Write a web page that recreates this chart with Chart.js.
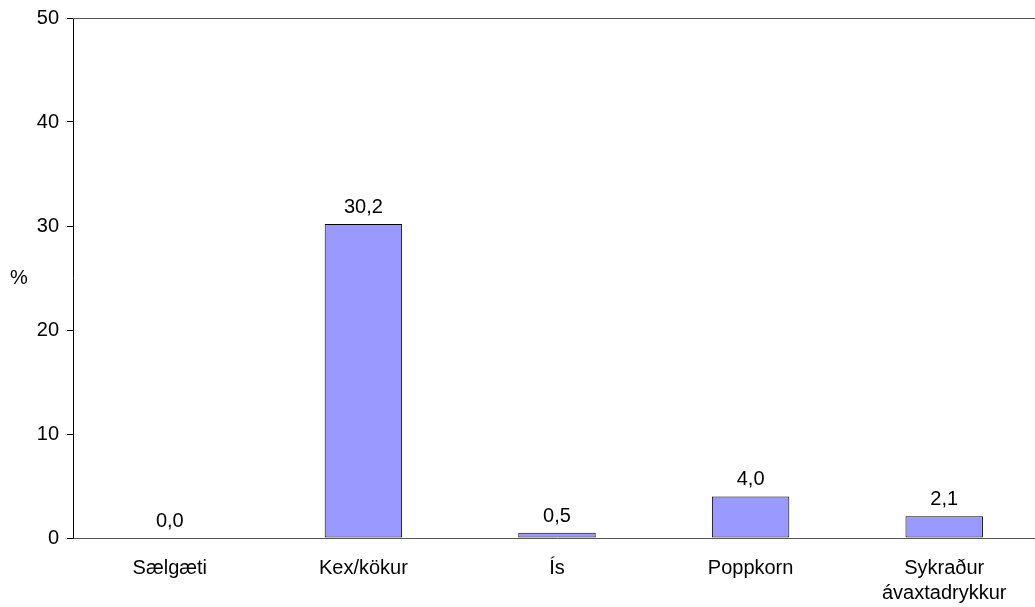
<!DOCTYPE html>
<html>
<head>
<meta charset="utf-8">
<script src="https://cdn.jsdelivr.net/npm/chart.js@4"></script>
<style>
  html, body { margin: 0; padding: 0; background: #fff; }
  #wrap { width: 1035px; height: 607px; overflow: hidden; }
</style>
</head>
<body>
<div id="wrap"><canvas id="chart" width="1042" height="607"></canvas></div>
<script>
const categories = ['Sælgæti', 'Kex/kökur', 'Ís', 'Poppkorn', ['Sykraður', 'ávaxtadrykkur']];
const values = [0.0, 30.2, 0.5, 4.0, 2.1];
const yTicks = [0, 10, 20, 30, 40, 50];

const FONT = 'Liberation Sans, Arial, sans-serif';

// draws value labels, the top border and the "%" axis title
const extras = {
    id: 'extras',
    afterDatasetsDraw(chart) {
        const ctx = chart.ctx;
        const area = chart.chartArea;
        ctx.save();
        ctx.strokeStyle = '#555';
        ctx.lineWidth = 1;
        ctx.beginPath();
        ctx.moveTo(area.left, Math.round(area.top) + 0.5);
        ctx.lineTo(area.right, Math.round(area.top) + 0.5);
        ctx.stroke();

        ctx.fillStyle = '#000';
        ctx.font = '20px ' + FONT;
        ctx.textAlign = 'center';
        ctx.textBaseline = 'alphabetic';
        const meta = chart.getDatasetMeta(0);
        meta.data.forEach((bar, i) => {
            ctx.fillText(values[i].toFixed(1).replace('.', ','), bar.x, bar.y - 11);
        });

        ctx.textBaseline = 'middle';
        ctx.fillText('%', 19, (area.top + area.bottom) / 2);
        ctx.restore();
    }
};

new Chart(document.getElementById('chart').getContext('2d'), {
    type: 'bar',
    data: {
        labels: categories,
        datasets: [{
            data: values,
            backgroundColor: '#9999FF',
            borderColor: '#000',
            borderWidth: 1,
            borderSkipped: false,
            categoryPercentage: 1,
            barPercentage: 0.4
        }]
    },
    options: {
        responsive: false,
        animation: false,
        layout: { padding: { top: 18, right: 1, left: 1, bottom: 0 } },
        plugins: { legend: { display: false }, tooltip: { enabled: false } },
        scales: {
            x: {
                afterFit: s => { s.height = 69; s.paddingLeft = 0; s.paddingRight = 0; },
                grid: { drawOnChartArea: false, drawTicks: false },
                border: { color: '#555', width: 1 },
                ticks: {
                    color: '#000',
                    font: { family: FONT, size: 20, lineHeight: 1.25 },
                    padding: 18,
                    maxRotation: 0,
                    autoSkip: false
                }
            },
            y: {
                min: 0,
                max: 50,
                afterFit: s => { s.width = 72; s.paddingTop = 0; s.paddingBottom = 0; },
                afterBuildTicks: s => { s.ticks = yTicks.map(v => ({ value: v })); },
                grid: { drawOnChartArea: false, drawTicks: true, tickLength: 6, color: '#000' },
                border: { color: '#000', width: 1 },
                ticks: {
                    color: '#000',
                    font: { family: FONT, size: 20 },
                    padding: 8
                }
            }
        }
    },
    plugins: [extras]
});
</script>
</body>
</html>
